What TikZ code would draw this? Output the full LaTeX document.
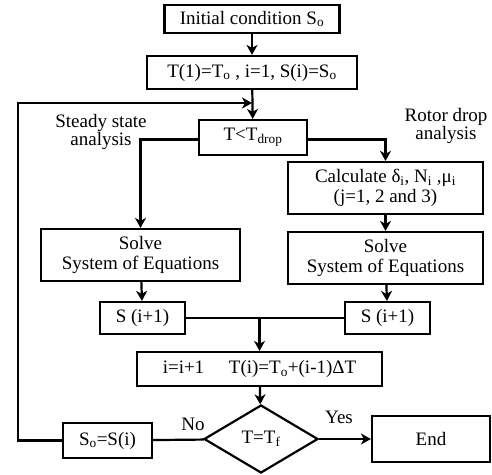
\documentclass[tikz,border=0pt]{standalone}
\usepackage{fontspec}
\setmainfont{Liberation Serif}
\usepackage{tikz}
\usetikzlibrary{calc,arrows.meta,positioning,shapes.geometric}
\definecolor{linec}{HTML}{000000}
\tikzset{
  ar/.style={-{Stealth[length=10pt,width=11pt,inset=3pt]},line width=2.2pt,linec},
  ln/.style={line width=2.2pt,linec},
  bx/.style={rectangle,draw=linec,line width=2.2pt,align=center,inner sep=2pt,font=\fontsize{19}{20.5}\selectfont},
  dm/.style={diamond,draw=linec,line width=2.2pt,inner sep=0pt,font=\fontsize{19}{20.5}\selectfont},
  lb/.style={align=center,font=\fontsize{19}{16}\selectfont}
}

\begin{document}
\begin{tikzpicture}[x=1pt,y=-1pt]
\useasboundingbox (0,0) rectangle (492,474);
% boxes
\node[bx,minimum width=175pt,minimum height=28pt] (init) at (252,19) {Initial condition S\textsubscript{o}};
\node[bx,minimum width=210pt,minimum height=33pt] (tinit) at (252,72.5) {T(1)=T\textsubscript{o} , i=1, S(i)=S\textsubscript{o}};
\node[bx,minimum width=108pt,minimum height=35pt] (cond) at (253,137.5) {T<T\textsubscript{drop}};
\node[bx,minimum width=195pt,minimum height=52pt] (calc) at (385.5,188) {Calculate δ\textsubscript{i}, N\textsubscript{i} ,μ\textsubscript{i}\\(j=1, 2 and 3)};
\node[bx,minimum width=195pt,minimum height=52pt] (solveR) at (385.5,258) {Solve\\System of Equations};
\node[bx,minimum width=199pt,minimum height=52pt] (solveL) at (140.5,255) {Solve\\System of Equations};
\node[bx,minimum width=85pt,minimum height=32pt] (sL) at (142.5,318) {S (i+1)};
\node[bx,minimum width=85pt,minimum height=32pt] (sR) at (387.5,318) {S (i+1)};
\node[bx,minimum width=245pt,minimum height=34pt] (upd) at (259.5,369) {i=i+1\hspace{1.3em}T(i)=T\textsubscript{o}+(i-1)ΔT};
\node[dm,minimum width=114pt,minimum height=68pt] (dec) at (261,439) {T=T\textsubscript{f}};
\node[bx,minimum width=118pt,minimum height=46pt] (fin) at (431,439) {End};
\node[bx,minimum width=89pt,minimum height=35pt] (reset) at (107.5,440.5) {S\textsubscript{o}=S(i)};
% labels
\node[lb] (steady) at (101,132) {Steady state\\analysis};
\node[lb] (rotor) at (446,126) {Rotor drop\\analysis};
\node[lb] (yes) at (339,417) {Yes};
\node[lb] (no) at (193,424) {No};
% connectors
\coordinate (lp) at (18,103);
\coordinate (jn) at (tinit.south |- lp);
\coordinate (mg) at (sL.east -| upd.north);
\draw[ar] (init) -- (tinit);
\draw[ar] (tinit) -- (cond);
\draw[ar] ([yshift=-2pt]cond.west) -| (solveL);
\draw[ar] ([yshift=-2pt]cond.east) -| (calc);
\draw[ar] (calc) -- (solveR);
\draw[ar] (solveL) -- (sL);
\draw[ar] (solveR) -- (sR);
\draw[ln] (sL) -- (sR);
\draw[ar] (mg) -- (upd);
\draw[ar] (upd) -- (dec);
\draw[ar] (dec) -- (fin);
\draw[ln] (dec) -- (reset);
\draw[ar] (reset.west) -| (lp) -- (jn);
\end{tikzpicture}
\end{document}
